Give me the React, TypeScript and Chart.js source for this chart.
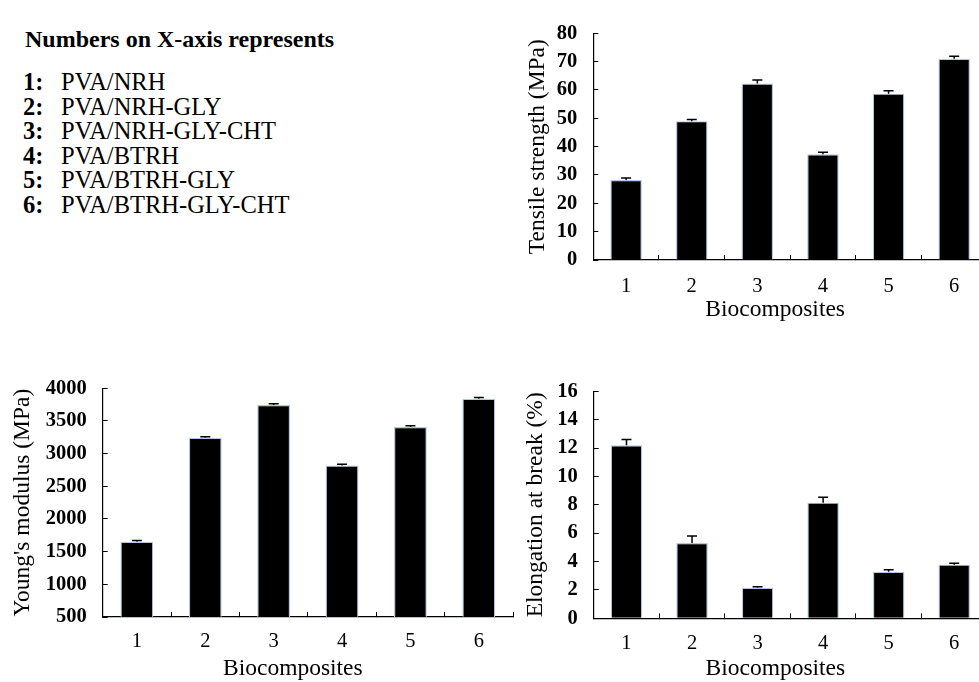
import React, { useEffect, useRef } from "react";
import { Chart, registerables } from "chart.js";

Chart.register(...registerables);

const FONT = "'Liberation Serif', 'Times New Roman', serif";
Chart.defaults.font.family = FONT;
Chart.defaults.color = "#000";

// ---------- data ----------
const categories = ["1", "2", "3", "4", "5", "6"];

const tensileValues = [28.2, 49.0, 62.3, 37.3, 58.7, 71.0];
const tensileErrors = [0.7, 0.6, 1.2, 0.7, 1.0, 0.9];

const modulusValues = [1652, 3243, 3745, 2819, 3407, 3841];
const modulusErrors = [18, 15, 18, 18, 18, 18];

const elongationValues = [12.2, 5.3, 2.15, 8.15, 3.28, 3.78];
const elongationErrors = [0.4, 0.5, 0.08, 0.38, 0.15, 0.1];

const legendTitle = "Numbers on X-axis represents";
const legendNumbers = ["1:", "2:", "3:", "4:", "5:", "6:"];
const legendNames = [
  "PVA/NRH",
  "PVA/NRH-GLY",
  "PVA/NRH-GLY-CHT",
  "PVA/BTRH",
  "PVA/BTRH-GLY",
  "PVA/BTRH-GLY-CHT",
];

const xTitle = "Biocomposites";

// ---------- plugin: error bars ----------
const errorBarPlugin = {
  id: "errorBars",
  afterDatasetsDraw(chart: any, _args: any, opts: any) {
    const errs: number[] = opts.errors || [];
    const meta = chart.getDatasetMeta(0);
    const yScale = chart.scales.y;
    const ctx = chart.ctx;
    const data = chart.data.datasets[0].data as number[];
    ctx.save();
    ctx.strokeStyle = "#000";
    ctx.lineWidth = 1.5;
    meta.data.forEach((bar: any, i: number) => {
      const v = data[i];
      const top = yScale.getPixelForValue(v + errs[i]);
      const bot = yScale.getPixelForValue(v);
      ctx.beginPath();
      ctx.moveTo(bar.x, bot);
      ctx.lineTo(bar.x, top);
      ctx.moveTo(bar.x - 5, top);
      ctx.lineTo(bar.x + 5, top);
      ctx.stroke();
    });
    ctx.restore();
  },
};

// ---------- plugin: x-axis title (slightly left of axis centre, as in the source) ----------
const xTitlePlugin = {
  id: "xTitle",
  afterDraw(chart: any, _args: any, opts: any) {
    const s = chart.scales.x;
    const ctx = chart.ctx;
    ctx.save();
    ctx.fillStyle = "#000";
    ctx.font = `${opts.size}px ${FONT}`;
    ctx.textAlign = "center";
    ctx.textBaseline = "middle";
    ctx.fillText(opts.text, (s.left + s.right) / 2 - opts.shift, s.top + opts.dy);
    ctx.restore();
  },
};

type PanelProps = {
  left: number;
  top: number;
  width: number;
  height: number;
  padTop: number;
  padRight: number;
  yAxisWidth: number;
  xAxisHeight: number;
  yTitlePad: number;
  xTickPad: number;
  xTitleDy: number;
  values: number[];
  errors: number[];
  yMin: number;
  yMax: number;
  yStep: number;
  yTitle: string;
};

function BarPanel(p: PanelProps) {
  const ref = useRef<HTMLCanvasElement | null>(null);
  useEffect(() => {
    if (!ref.current) return;
    const chart = new Chart(ref.current, {
      type: "bar",
      data: {
        labels: categories,
        datasets: [
          {
            data: p.values,
            backgroundColor: "#000",
            borderColor: "#b3c6e2",
            borderWidth: 1.2,
            barPercentage: 0.48,
            categoryPercentage: 1,
          },
        ],
      },
      options: {
        responsive: false,
        animation: false,
        devicePixelRatio: 1,
        layout: { padding: { top: p.padTop, right: p.padRight, left: 0, bottom: 0 } },
        plugins: {
          legend: { display: false },
          tooltip: { enabled: false },
          errorBars: { errors: p.errors },
          xTitle: { text: xTitle, size: 23.5, shift: 15, dy: p.xTitleDy },
        } as any,
        scales: {
          x: {
            grid: {
              display: true,
              drawOnChartArea: false,
              drawTicks: true,
              tickLength: -5,
              color: "#000",
              lineWidth: 1,
            },
            border: { display: true, color: "#000", width: 1.2 },
            ticks: {
              padding: p.xTickPad,
              color: "#000",
              maxRotation: 0,
              autoSkip: false,
              font: { size: 20.5, family: FONT },
            },
            title: { display: false },
            afterFit: (s: any) => {
              s.height = p.xAxisHeight;
            },
          },
          y: {
            min: p.yMin,
            max: p.yMax,
            grid: {
              display: true,
              drawOnChartArea: false,
              drawTicks: true,
              tickLength: -5,
              color: "#000",
              lineWidth: 1,
            },
            border: { display: true, color: "#000", width: 1.2 },
            ticks: {
              stepSize: p.yStep,
              padding: 21,
              color: "#000",
              font: { size: 20.5, weight: "bold", family: FONT },
              callback: (v: any) => String(v),
            },
            title: {
              display: true,
              text: p.yTitle,
              color: "#000",
              font: { size: 23.5, family: FONT },
              padding: { top: p.yTitlePad, bottom: 0 },
            },
            afterFit: (s: any) => {
              s.width = p.yAxisWidth;
            },
          },
        },
      } as any,
      plugins: [errorBarPlugin, xTitlePlugin],
    });
    return () => chart.destroy();
  }, []);
  return (
    <canvas
      ref={ref}
      width={p.width}
      height={p.height}
      style={{
        position: "absolute",
        left: p.left,
        top: p.top,
        width: p.width,
        height: p.height,
      }}
    />
  );
}

export default function App() {
  const rowTop0 = 82;
  const rowStep = 24.6;
  const lh = 28;
  return (
    <div
      style={{
        position: "fixed",
        left: 0,
        top: 0,
        width: 979,
        height: 682,
        overflow: "hidden",
        background: "#fff",
        fontFamily: FONT,
        color: "#000",
      }}
    >
      <div
        style={{
          position: "absolute",
          left: 25,
          top: 39 - lh / 2,
          lineHeight: `${lh}px`,
          fontSize: 24,
          fontWeight: "bold",
          whiteSpace: "nowrap",
        }}
      >
        {legendTitle}
      </div>
      {legendNumbers.map((n, i) => (
        <React.Fragment key={n}>
          <div
            style={{
              position: "absolute",
              left: 23,
              top: rowTop0 + i * rowStep - lh / 2,
              lineHeight: `${lh}px`,
              fontSize: 24.5,
              fontWeight: "bold",
              whiteSpace: "nowrap",
            }}
          >
            {n}
          </div>
          <div
            style={{
              position: "absolute",
              left: 61,
              top: rowTop0 + i * rowStep - lh / 2,
              lineHeight: `${lh}px`,
              fontSize: 24.5,
              whiteSpace: "nowrap",
            }}
          >
            {legendNames[i]}
          </div>
        </React.Fragment>
      ))}

      <BarPanel
        left={0}
        top={355}
        width={515}
        height={342}
        padTop={19.7}
        padRight={2}
        yAxisWidth={102.7}
        xAxisHeight={80}
        yTitlePad={9.2}
        xTickPad={16.9}
        xTitleDy={52.3}
        values={modulusValues}
        errors={modulusErrors}
        yMin={500}
        yMax={4000}
        yStep={500}
        yTitle="Young's modulus (MPa)"
      />
      <BarPanel
        left={500}
        top={0}
        width={487}
        height={340}
        padTop={19}
        padRight={0}
        yAxisWidth={93.3}
        xAxisHeight={80}
        yTitlePad={23.4}
        xTickPad={18.9}
        xTitleDy={50}
        values={tensileValues}
        errors={tensileErrors}
        yMin={0}
        yMax={80}
        yStep={10}
        yTitle="Tensile strength (MPa)"
      />
      <BarPanel
        left={500}
        top={358}
        width={487}
        height={340}
        padTop={18.7}
        padRight={0}
        yAxisWidth={93.7}
        xAxisHeight={79.7}
        yTitlePad={21.6}
        xTickPad={17.6}
        xTitleDy={50.7}
        values={elongationValues}
        errors={elongationErrors}
        yMin={0}
        yMax={16}
        yStep={2}
        yTitle="Elongation at break (%)"
      />
    </div>
  );
}
